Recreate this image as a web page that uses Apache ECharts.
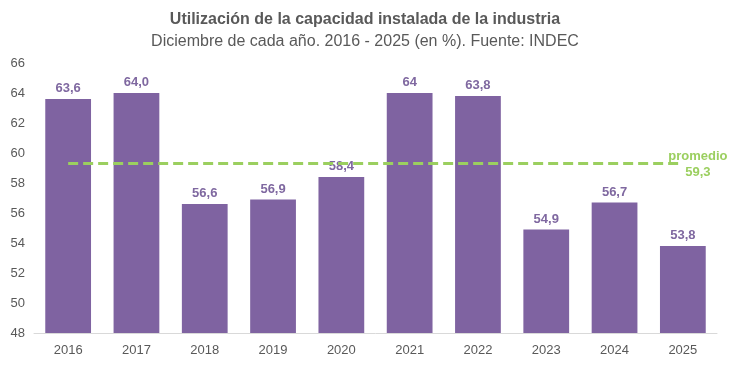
<!DOCTYPE html>
<html>
<head>
<meta charset="utf-8">
<script src="https://cdn.jsdelivr.net/npm/echarts@6/dist/echarts.min.js"></script>
<style>
html,body{margin:0;padding:0;background:#fff;}
#chart{width:730px;height:365px;}
</style>
</head>
<body>
<div id="chart"></div>
<script>
const years = ['2016','2017','2018','2019','2020','2021','2022','2023','2024','2025'];
const values = [63.6, 64.0, 56.6, 56.9, 58.4, 64.0, 63.8, 54.9, 56.7, 53.8];
const valueLabels = ['63,6','64,0','56,6','56,9','58,4','64','63,8','54,9','56,7','53,8'];
const average = 59.3;
const averageLabel = 'promedio\n59,3';
const yMin = 48, yMax = 66, yStep = 2;

const chart = echarts.init(document.getElementById('chart'), null, {renderer:'canvas'});
const font = 'Liberation Sans, Arial, sans-serif';
chart.setOption({
  animation:false,
  title:{
    text:'Utilización de la capacidad instalada de la industria',
    subtext:'Diciembre de cada año. 2016 - 2025 (en %). Fuente: INDEC',
    left:'center', top:7, itemGap:6,
    textStyle:{fontFamily:font, fontSize:16, fontWeight:'bold', color:'#595959'},
    subtextStyle:{fontFamily:font, fontSize:16, color:'#595959'}
  },
  grid:{left:34, right:13, top:63, bottom:32, containLabel:false},
  xAxis:{
    type:'category', data:years,
    axisLine:{lineStyle:{color:'#d9d9d9', width:1}},
    axisTick:{show:false},
    axisLabel:{fontFamily:font, fontSize:13, color:'#595959', margin:11}
  },
  yAxis:{
    type:'value', min:yMin, max:yMax, interval:yStep,
    axisLine:{show:false}, axisTick:{show:false},
    splitLine:{show:false},
    axisLabel:{fontFamily:font, fontSize:13, color:'#595959', margin:9}
  },
  series:[{
    type:'bar', data:values, barCategoryGap:'33%',
    itemStyle:{color:'#7F63A1'},
    label:{show:true, position:'top', distance:4,
      formatter:p=>valueLabels[p.dataIndex],
      fontFamily:font, fontSize:13, fontWeight:'bold', color:'#7F68A0'},
    markLine:{
      silent:true, symbol:['none','none'],
      lineStyle:{color:'#9BCF5F', type:[10,5], width:3},
      label:{show:false},
      data:[[{coord:[0, average]},{coord:[9, average]}]]
    },
    markPoint:{
      silent:true,
      data:[{coord:[9, average], symbol:'circle', symbolSize:0,
        label:{show:true, position:'inside', offset:[15,1], formatter:averageLabel,
          fontFamily:font, fontSize:13, fontWeight:'bold', color:'#9BCF5F', lineHeight:16, align:'center'}}]
    }
  }]
});
</script>
</body>
</html>
